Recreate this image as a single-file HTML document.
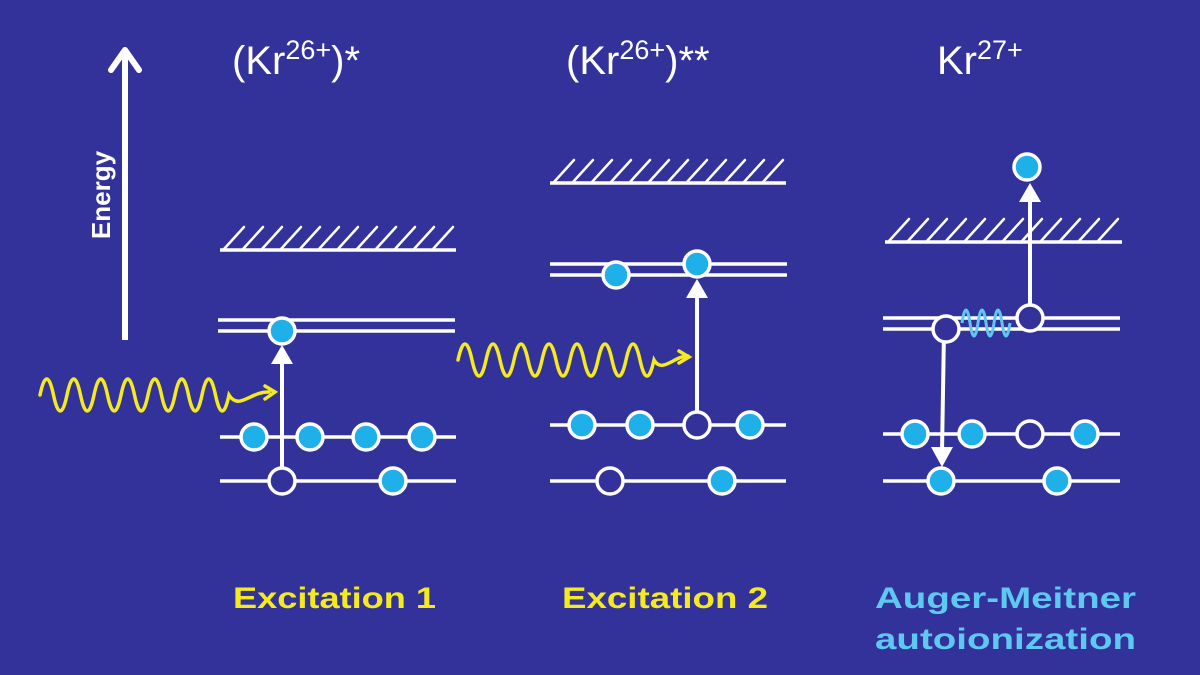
<!DOCTYPE html>
<html><head><meta charset="utf-8"><style>
html,body{margin:0;padding:0;background:#32329a;}
svg{display:block}
text{font-family:"Liberation Sans",sans-serif;}
</style></head><body>
<svg width="1200" height="675" viewBox="0 0 1200 675" xmlns="http://www.w3.org/2000/svg">
<defs>
<g id="hatch" stroke="#fff" stroke-width="2.5" stroke-linecap="round">
<line x1="4" y1="24" x2="24" y2="2"/><line x1="23" y1="24" x2="43" y2="2"/><line x1="42" y1="24" x2="62" y2="2"/>
<line x1="61" y1="24" x2="81" y2="2"/><line x1="80" y1="24" x2="100" y2="2"/><line x1="99" y1="24" x2="119" y2="2"/>
<line x1="118" y1="24" x2="138" y2="2"/><line x1="137" y1="24" x2="157" y2="2"/><line x1="156" y1="24" x2="176" y2="2"/>
<line x1="175" y1="24" x2="195" y2="2"/><line x1="194" y1="24" x2="214" y2="2"/><line x1="213" y1="24" x2="233" y2="2"/>
</g>
</defs>
<rect width="1200" height="675" fill="#32329a"/>
<line x1="125" y1="340" x2="125" y2="52" stroke="#fff" stroke-width="6"/>
<polyline points="111,70 125,50 139,70" fill="none" stroke="#fff" stroke-width="6" stroke-linecap="round" stroke-linejoin="round"/>
<text transform="translate(110,195) rotate(-90)" font-size="26" font-weight="bold" fill="#fff" text-anchor="middle">Energy</text>
<text x="232" y="74" font-size="40" fill="#fff">(Kr<tspan font-size="27" dy="-15">26+</tspan><tspan dy="15">)*</tspan></text>
<text x="566" y="74" font-size="40" fill="#fff">(Kr<tspan font-size="27" dy="-15">26+</tspan><tspan dy="15">)**</tspan></text>
<text x="937" y="74" font-size="40" fill="#fff">Kr<tspan font-size="27" dy="-15">27+</tspan></text>
<use href="#hatch" x="220" y="225"/>
<use href="#hatch" x="550" y="158"/>
<use href="#hatch" x="885" y="217"/>
<g stroke="#fff" stroke-width="3.5" fill="none">
<line x1="220" y1="250" x2="456" y2="250"/>
<line x1="218" y1="320" x2="455" y2="320"/>
<line x1="218" y1="331" x2="455" y2="331"/>
<line x1="220" y1="437" x2="456" y2="437"/>
<line x1="220" y1="481" x2="456" y2="481"/>
<line x1="550" y1="183" x2="786" y2="183"/>
<line x1="550" y1="264" x2="787" y2="264"/>
<line x1="550" y1="275" x2="787" y2="275"/>
<line x1="550" y1="425" x2="786" y2="425"/>
<line x1="550" y1="481" x2="786" y2="481"/>
<line x1="885" y1="242" x2="1122" y2="242"/>
<line x1="883" y1="318" x2="1120" y2="318"/>
<line x1="883" y1="329" x2="1120" y2="329"/>
<line x1="883" y1="434" x2="1120" y2="434"/>
<line x1="883" y1="481" x2="1120" y2="481"/>
</g>
<g stroke="#fff" stroke-width="4" fill="#fff">
<line x1="282" y1="481" x2="282" y2="358"/>
<polygon points="271,364 282,345 293,364" stroke="none"/>
<line x1="697" y1="425" x2="697" y2="292"/>
<polygon points="686,298 697,279 708,298" stroke="none"/>
<line x1="1030" y1="318" x2="1030" y2="196"/>
<polygon points="1019,202 1030,183 1041,202" stroke="none"/>
<line x1="944" y1="331" x2="942" y2="452"/>
<polygon points="931,447 942,467 953,447" stroke="none"/>
</g>
<g fill="none" stroke="#f5ea1e" stroke-width="3.5" stroke-linecap="round">
<path d="M40,395 q6.75,-32 13.5,0 t13.5,0 t13.5,0 t13.5,0 t13.5,0 t13.5,0 t13.5,0 t13.5,0 t13.5,0 t13.5,0 t13.5,0 t13.5,0 t13.5,0 t13.5,0 c10,16 22,-4 40,-3"/>
<polyline points="265,386 275,392 265,399"/>
<path d="M458,360 q7,-32 14,0 t14,0 t14,0 t14,0 t14,0 t14,0 t14,0 t14,0 t14,0 t14,0 t14,0 t14,0 t14,0 t14,0 c8,14 20,-4 34,-4"/>
<polyline points="679,351 689,357 679,363"/>
</g>
<path d="M962,323 q4,-26 8,0 t8,0 t8,0 t8,0 t8,0 t8,0" fill="none" stroke="#5ec8f0" stroke-width="3"/>
<g stroke="#fff" stroke-width="3.5" fill="#1fb0ea">
<circle cx="282" cy="331" r="13"/>
<circle cx="254" cy="437" r="13"/><circle cx="310" cy="437" r="13"/><circle cx="366" cy="437" r="13"/><circle cx="422" cy="437" r="13"/>
<circle cx="282" cy="481" r="13" fill="#32329a"/><circle cx="393" cy="481" r="13"/>
<circle cx="616" cy="275" r="13"/><circle cx="697" cy="264" r="13"/>
<circle cx="582" cy="425" r="13"/><circle cx="640" cy="425" r="13"/><circle cx="697" cy="425" r="13" fill="#32329a"/><circle cx="750" cy="425" r="13"/>
<circle cx="610" cy="481" r="13" fill="#32329a"/><circle cx="722" cy="481" r="13"/>
<circle cx="1027" cy="167" r="13"/>
<circle cx="946" cy="329" r="13" fill="#32329a"/><circle cx="1030" cy="318" r="13" fill="#32329a"/>
<circle cx="915" cy="434" r="13"/><circle cx="972" cy="434" r="13"/><circle cx="1030" cy="434" r="13" fill="#32329a"/><circle cx="1085" cy="434" r="13"/>
<circle cx="941" cy="481" r="13"/><circle cx="1057" cy="481" r="13"/>
</g>
<g font-size="30" font-weight="bold" lengthAdjust="spacingAndGlyphs">
<text x="233" y="608" fill="#f5ea1e" textLength="203" lengthAdjust="spacingAndGlyphs">Excitation 1</text>
<text x="562" y="608" fill="#f5ea1e" textLength="206" lengthAdjust="spacingAndGlyphs">Excitation 2</text>
<text x="875" y="608" fill="#5ec8f0" textLength="261" lengthAdjust="spacingAndGlyphs">Auger-Meitner</text>
<text x="875" y="649" fill="#5ec8f0" textLength="261" lengthAdjust="spacingAndGlyphs">autoionization</text>
</g>
</svg>
</body></html>
